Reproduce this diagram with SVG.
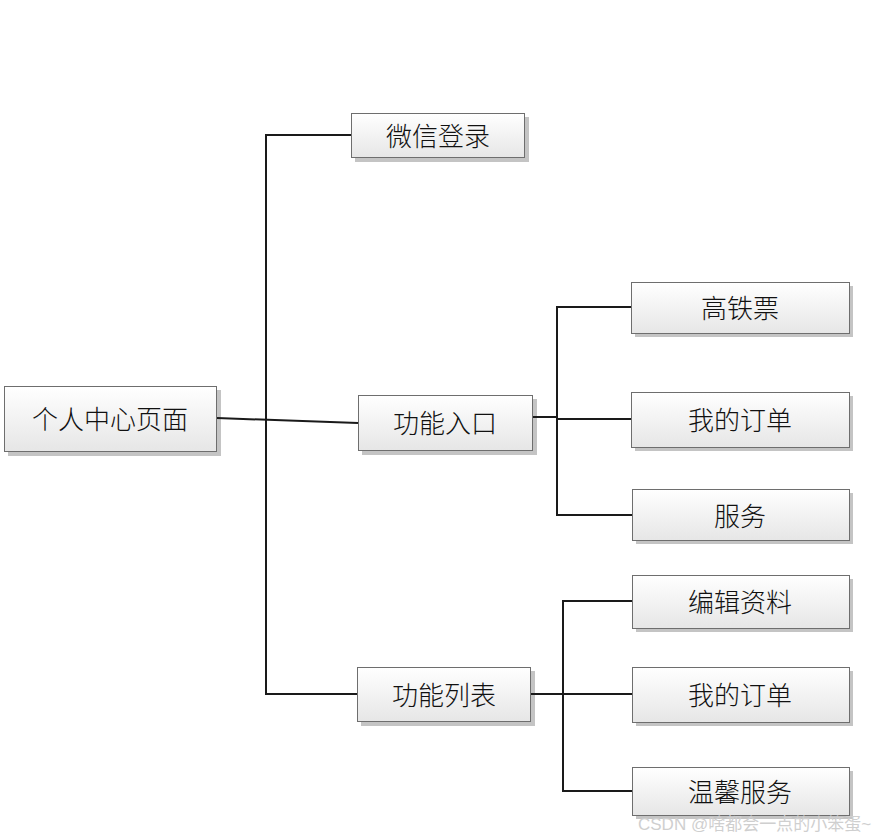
<svg xmlns="http://www.w3.org/2000/svg" width="874" height="838" viewBox="0 0 874 838">
<defs>
<linearGradient id="g" x1="0" y1="0" x2="0" y2="1">
<stop offset="0" stop-color="#ffffff"/>
<stop offset="1" stop-color="#e6e6e6"/>
</linearGradient>
<style>
.sh{fill:#c4c4c4;}
.bx{fill:url(#g);stroke:#6e6e6e;stroke-width:1;}
.t{font-family:"Noto Sans CJK SC","Noto Sans CJK JP",sans-serif;font-size:26px;font-weight:300;fill:#111;text-anchor:middle;dominant-baseline:central;}
.c{fill:none;stroke:#1a1a1a;stroke-width:2;}
.wm{font-family:"Liberation Sans","Noto Sans CJK SC",sans-serif;font-size:17px;fill:#cfcfcf;}
</style>
</defs>
<rect width="874" height="838" fill="#fff"/>
<g id="n-center"><rect class="sh" x="8" y="390" width="213" height="66"/><rect class="bx" x="4.500" y="386.500" width="212" height="65"/><text class="t" x="110" y="417">个人中心页面</text></g>
<g id="n-wechat"><rect class="sh" x="355" y="117" width="174" height="45"/><rect class="bx" x="351.500" y="113.500" width="173" height="44"/><text class="t" x="438" y="134">微信登录</text></g>
<g id="n-entry"><rect class="sh" x="362" y="399" width="175" height="56"/><rect class="bx" x="358.500" y="395.500" width="174" height="55"/><text class="t" x="445" y="421">功能入口</text></g>
<g id="n-list"><rect class="sh" x="361" y="671" width="174" height="55"/><rect class="bx" x="357.500" y="667.500" width="173" height="54"/><text class="t" x="444" y="693">功能列表</text></g>
<g id="n-ticket"><rect class="sh" x="635" y="286" width="218" height="51"/><rect class="bx" x="631.500" y="282.500" width="218" height="51"/><text class="t" x="740" y="306">高铁票</text></g>
<g id="n-order1"><rect class="sh" x="635" y="396" width="218" height="55"/><rect class="bx" x="631.500" y="392.500" width="218" height="55"/><text class="t" x="740" y="418">我的订单</text></g>
<g id="n-service"><rect class="sh" x="636" y="493" width="217" height="51"/><rect class="bx" x="632.500" y="489.500" width="217" height="51"/><text class="t" x="740" y="514">服务</text></g>
<g id="n-edit"><rect class="sh" x="636" y="579" width="217" height="53"/><rect class="bx" x="632.500" y="575.500" width="217" height="53"/><text class="t" x="740" y="600">编辑资料</text></g>
<g id="n-order2"><rect class="sh" x="636" y="671" width="217" height="55"/><rect class="bx" x="632.500" y="667.500" width="217" height="55"/><text class="t" x="740" y="693">我的订单</text></g>
<g id="n-warm"><rect class="sh" x="636" y="771" width="217" height="48"/><rect class="bx" x="632.500" y="767.500" width="217" height="48"/><text class="t" x="740" y="790">温馨服务</text></g>
<g id="connectors">
<path class="c" d="M351,135 H266 V694 H357"/>
<path class="c" d="M217,418 L358,423"/>
<path class="c" d="M533,417 H557 M631,307 H557 V515 H632 M557,419 H631"/>
<path class="c" d="M531,694 H563 M632,601 H563 V791 H632 M563,694 H632"/>
</g>
<text class="wm" x="638" y="830">CSDN @啥都会一点的小笨蛋~</text>
</svg>
